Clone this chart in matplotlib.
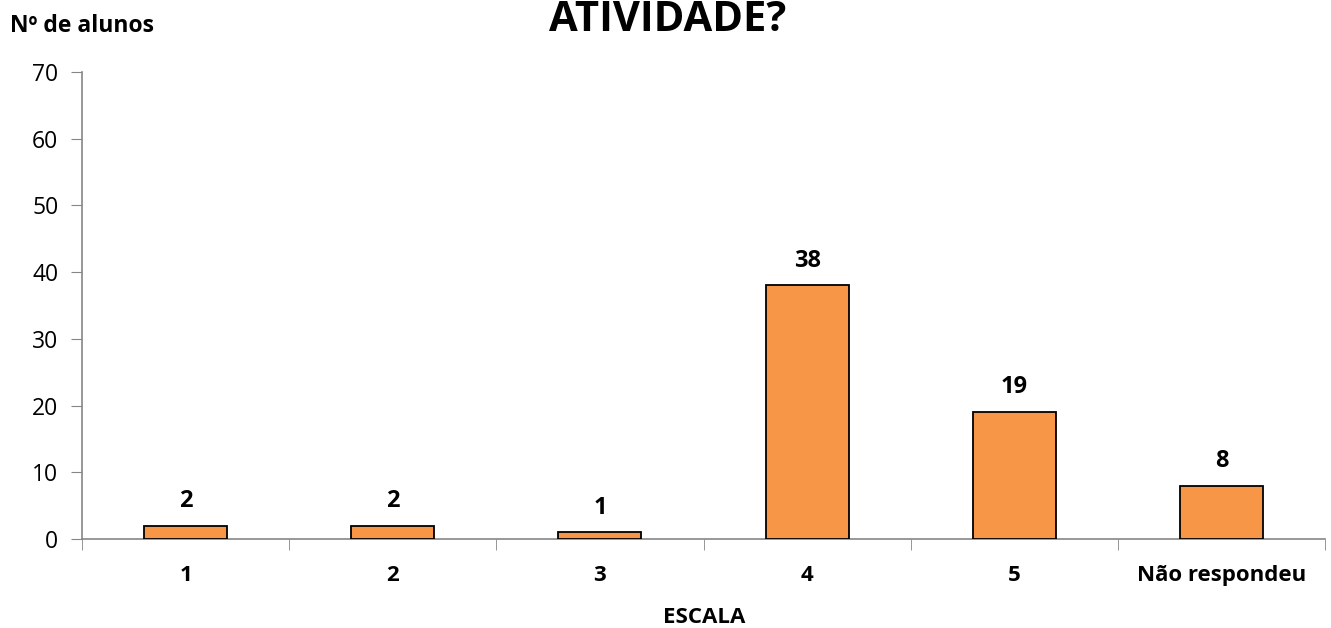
import matplotlib
matplotlib.use("Agg")
import matplotlib.pyplot as plt

categories = ["1", "2", "3", "4", "5", "Não respondeu"]
values = [2, 2, 1, 38, 19, 8]
yticks = [0, 10, 20, 30, 40, 50, 60, 70]

plt.rcParams['font.family'] = ['Open Sans', 'DejaVu Sans']

fig = plt.figure(figsize=(13.31, 6.28), dpi=100)
ax = fig.add_axes([82/1331, 1-539/628, (1325-82)/1331, (539-72)/628])

x = list(range(len(categories)))
bars = ax.bar(x, values, width=0.4, color="#F79646", edgecolor="black", linewidth=1.3, zorder=3)
ax.set_xlim(-0.5, len(categories)-0.5)
ax.set_ylim(0, 70)
ax.set_yticks(yticks)
ax.set_yticklabels([str(t) for t in yticks], fontsize=16.5)

ax.set_xticks(x)
ax.set_xticklabels(categories, fontsize=16, fontweight="bold")
ax.tick_params(axis='x', length=0, pad=19)
ax.set_xticks([i - 0.5 for i in range(len(categories)+1)], minor=True)
ax.tick_params(axis='x', which='minor', length=8, color="#868686", direction='out')
ax.tick_params(axis='y', length=8, color="#868686", direction='out', pad=9)

for s in ['top', 'right']:
    ax.spines[s].set_visible(False)
for s in ['left', 'bottom']:
    ax.spines[s].set_color("#868686")
    ax.spines[s].set_linewidth(1.2)

for xi, v in zip(x, values):
    ax.annotate(str(v), (xi, v), xytext=(0, 13.5), textcoords='offset points',
                ha='center', va='baseline', fontsize=17, fontweight='bold')

fig.text(704/1331, 1-623/628, "ESCALA", ha='center', va='baseline', fontsize=16, fontweight='bold')
fig.text(10/1331, 1-32/628, "Nº de alunos", ha='left', va='baseline', fontsize=16.5, fontweight='bold')
fig.text(668/1331, 1-31/628, "ATIVIDADE?", ha='center', va='baseline', fontsize=30, fontweight='bold')

fig.savefig("out.png", dpi=100)
